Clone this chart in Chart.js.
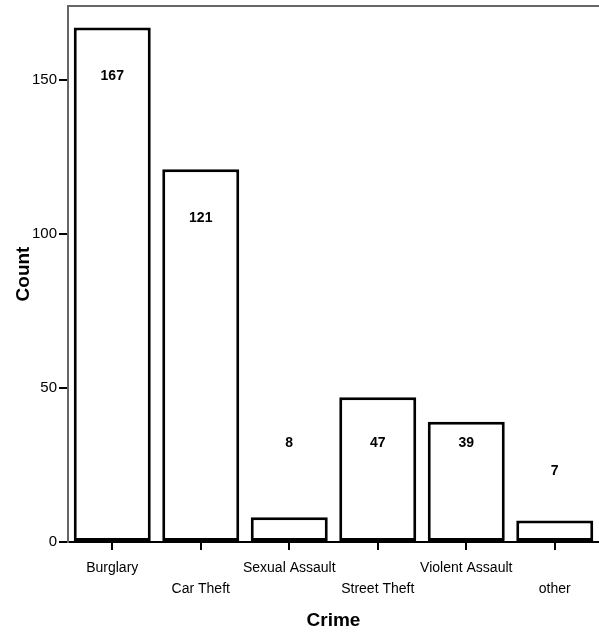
<!DOCTYPE html>
<html lang="en">
<head>
    <meta charset="UTF-8">
    <title>Crime Counts</title>
    <style>
        body { margin: 0; background: #fff; }
        #wrap { width: 599px; height: 638px; }
    </style>
    <script src="https://cdn.jsdelivr.net/npm/chart.js@4.4.0/dist/chart.umd.min.js"></script>
</head>
<body>
<div id="wrap"><canvas id="crimeChart" width="599" height="638"></canvas></div>
<script>
    const crimes = ['Burglary', 'Car Theft', 'Sexual Assault', 'Street Theft', 'Violent Assault', 'other'];
    const counts = [167, 121, 8, 47, 39, 7];
    const yTicks = [0, 50, 100, 150];

    // staggered labels: every second one goes on the lower line
    const tickLabels = crimes.map((c, i) => i % 2 ? ['', c] : [c]);

    // frame line on top + value labels
    const extras = {
        id: 'extras',
        afterDatasetsDraw(chart) {
            const { ctx, chartArea } = chart;
            ctx.save();
            ctx.strokeStyle = '#666';
            ctx.lineWidth = 2;
            ctx.beginPath();
            ctx.moveTo(chartArea.left, chartArea.top);
            ctx.lineTo(chartArea.right, chartArea.top);
            ctx.stroke();

            const y = chart.scales.y;
            ctx.fillStyle = '#000';
            ctx.font = 'bold 14px "Liberation Sans", Arial, sans-serif';
            ctx.textAlign = 'center';
            ctx.textBaseline = 'middle';
            chart.getDatasetMeta(0).data.forEach((bar, i) => {
                let ly = Math.min(bar.y + 49, y.getPixelForValue(32));
                if (counts[i] < 8) ly = y.getPixelForValue(23);
                ctx.fillText(String(counts[i]), bar.x, ly);
            });
            ctx.restore();
        }
    };

    new Chart(document.getElementById('crimeChart'), {
        type: 'bar',
        data: {
            labels: tickLabels,
            datasets: [{
                data: counts,
                backgroundColor: '#fff',
                borderColor: '#000',
                borderWidth: 3,
                borderSkipped: false,
                barPercentage: 0.87,
                categoryPercentage: 1
            }]
        },
        options: {
            responsive: false,
            animation: false,
            layout: { padding: { top: 6, right: 0, left: 0, bottom: 0 } },
            plugins: { legend: { display: false }, tooltip: { enabled: false } },
            scales: {
                x: {
                    grid: { display: true, drawOnChartArea: false, offset: false, color: '#000', lineWidth: 2, tickLength: 8 },
                    border: { color: '#000', width: 2 },
                    ticks: {
                        color: '#000', padding: 8, maxRotation: 0, autoSkip: false,
                        font: { family: '"Liberation Sans", Arial, sans-serif', size: 14, lineHeight: 1.5 }
                    },
                    title: {
                        display: true, text: 'Crime', color: '#000', padding: { top: 0, bottom: 6 },
                        font: { family: '"Liberation Sans", Arial, sans-serif', size: 19, weight: 'bold' }
                    },
                    afterFit(s) { s.height = 96; s.paddingLeft = 0; s.paddingRight = 0; }
                },
                y: {
                    min: 0,
                    max: 174,
                    afterBuildTicks(s) { s.ticks = yTicks.map(v => ({ value: v })); },
                    grid: { display: true, drawOnChartArea: false, color: '#000', lineWidth: 2, tickLength: 9 },
                    border: { color: '#666', width: 2 },
                    ticks: {
                        color: '#000', padding: 2,
                        font: { family: '"Liberation Sans", Arial, sans-serif', size: 15 }
                    },
                    title: {
                        display: true, text: 'Count', color: '#000', padding: { top: 12, bottom: 0 },
                        font: { family: '"Liberation Sans", Arial, sans-serif', size: 19, weight: 'bold' }
                    },
                    afterFit(s) { s.width = 68; s.paddingTop = 0; s.paddingBottom = 0; }
                }
            }
        },
        plugins: [extras]
    });
</script>
</body>
</html>
